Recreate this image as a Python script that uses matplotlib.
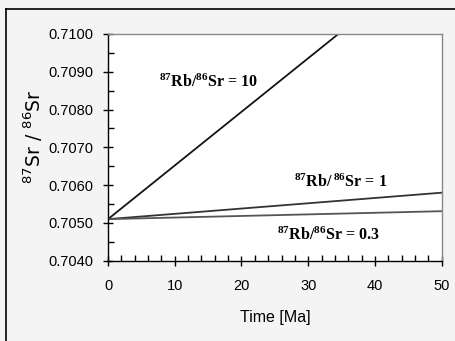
import matplotlib.pyplot as plt
from matplotlib.ticker import MultipleLocator

# Sr isotope growth, initial ratio 0.7051
time_ma = [0, 50]
sr_r10 = [0.7051, 0.7122]
sr_r1 = [0.7051, 0.7058]
sr_r03 = [0.7051, 0.70531]

labels = [r"$\mathbf{^{87}Rb/^{86}Sr}$ = 10",
          r"$\mathbf{^{87}Rb/\,^{86}Sr}$ = 1",
          r"$\mathbf{^{87}Rb/^{86}Sr}$ = 0.3"]
label_pos = [(15.1, 0.70873), (34.8, 0.70608), (33.0, 0.70466)]

fig = plt.figure(figsize=(4.55, 3.41), dpi=100, facecolor="#f4f4f4")
ax = fig.add_axes([0.2374, 0.2355, 0.7334, 0.6648])
ax.set_facecolor("white")

# outer chart frame (only top and left visible)
fig.add_artist(plt.Line2D([6/455, 6/455], [0, 1 - 9/341], color="black", lw=1.2))
fig.add_artist(plt.Line2D([6/455, 1], [1 - 9/341, 1 - 9/341], color="black", lw=1.2))

ax.plot(time_ma, sr_r10, color="#141414", lw=1.3)
ax.plot(time_ma, sr_r1, color="#333333", lw=1.3)
ax.plot(time_ma, sr_r03, color="#555555", lw=1.3)

plt.rcParams["mathtext.fontset"] = "custom"
plt.rcParams["mathtext.rm"] = "Liberation Serif"
plt.rcParams["mathtext.bf"] = "Liberation Serif:bold"
plt.rcParams["mathtext.sf"] = "Liberation Sans"
for lab, (x, y) in zip(labels, label_pos):
    ax.text(x, y, lab, ha="center", va="center", fontsize=11.5,
            family="Liberation Serif", weight="bold")

ax.set_xlim(0, 50)
ax.set_ylim(0.7040, 0.7100)
ax.xaxis.set_major_locator(MultipleLocator(10))
ax.xaxis.set_minor_locator(MultipleLocator(2))
ax.yaxis.set_major_locator(MultipleLocator(0.001))
ax.yaxis.set_minor_locator(MultipleLocator(0.0005))
ax.yaxis.set_major_formatter(plt.FormatStrFormatter("%.4f"))

ax.tick_params(which="major", direction="inout", length=7, width=1, labelsize=10.5)
ax.tick_params(axis="x", which="major", pad=10)
ax.tick_params(axis="y", which="major", pad=7)
ax.tick_params(which="minor", direction="in", length=4, width=1)
for t in ax.get_xticklabels() + ax.get_yticklabels():
    t.set_family("Liberation Sans")

for s in ["left", "bottom"]:
    ax.spines[s].set_color("black")
    ax.spines[s].set_linewidth(1)
for s in ["top", "right"]:
    ax.spines[s].set_color("#888888")
    ax.spines[s].set_linewidth(1)

ax.set_xlabel("Time [Ma]", family="Liberation Sans", fontsize=11.5, labelpad=12)
ax.set_ylabel(r"$\mathsf{^{87}Sr\ /\ ^{86}Sr}$", family="Liberation Sans", fontsize=13.5)
ax.yaxis.set_label_coords(-0.19, 0.545)

fig.savefig("out.png", dpi=100, facecolor=fig.get_facecolor())
